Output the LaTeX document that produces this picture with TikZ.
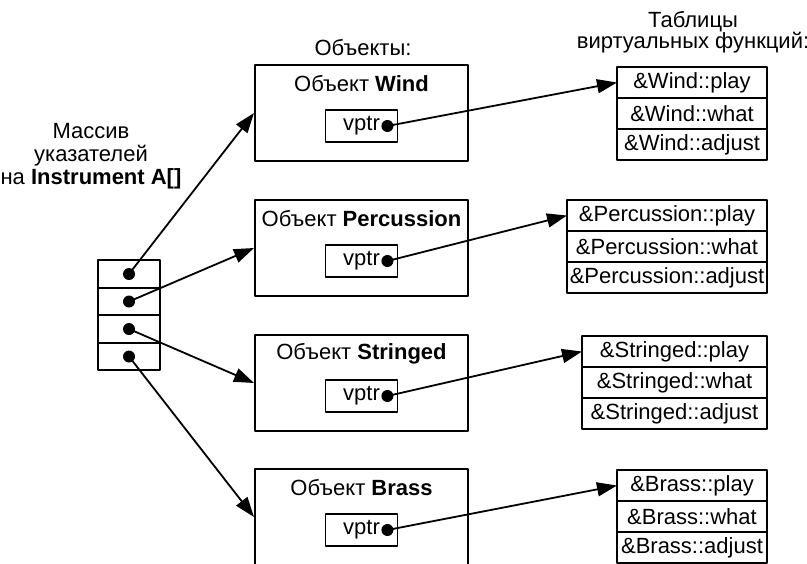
\documentclass[tikz,border=0pt]{standalone}
\usepackage{fontspec}
\setmainfont{Liberation Sans}
\usetikzlibrary{arrows.meta,positioning}

\tikzset{
  objbox/.style={draw,line width=1pt,minimum width=106.5pt,minimum height=48pt,inner sep=0pt},
  vptrbox/.style={draw,line width=0.9pt,minimum width=36pt,minimum height=16pt,inner sep=0pt},
  slot/.style={draw,line width=0.8pt,minimum width=31pt,minimum height=13.75pt,inner sep=0pt,outer sep=0pt},
  vrow/.style={draw,line width=0.9pt,minimum height=15.5pt,inner sep=0pt,outer sep=0pt},
  ptrdot/.style={circle,fill=black,inner sep=0pt,minimum size=6pt},
  link/.style={-{Triangle[length=10pt,width=7pt]},line width=0.9pt},
}

\begin{document}
\begin{tikzpicture}[x=0.5pt,y=-0.5pt,font=\fontsize{11}{12}\selectfont,line join=round]
\clip (0,0) rectangle (807,563);
% headings
\node (hobj) at (363,48) {Объекты:};
\node[align=center,font=\fontsize{11}{10.5}\selectfont] (htab) at (693,32) {Таблицы\\виртуальных функций:};
\node[align=center,font=\fontsize{11}{11.5}\selectfont] (harr) at (91,156) {Массив\\указателей\\на \textbf{Instrument A[]}};
% array of pointers
\node[slot] (s1) at (129,274) {};
\node[slot,below=0pt of s1] (s2) {};
\node[slot,below=0pt of s2] (s3) {};
\node[slot,below=0pt of s3] (s4) {};
\node[ptrdot] (s1d) at (s1.center) {};
\node[ptrdot] (s2d) at (s2.center) {};
\node[ptrdot] (s3d) at (s3.center) {};
\node[ptrdot] (s4d) at (s4.center) {};
% objects
\node[objbox] (wobj) at (361.5,113) {};
\node (wtitle) at ([yshift=-10pt]wobj.north) {Объект \textbf{Wind}};
\node[vptrbox] (wvp) at ([yshift=-31pt]wobj.north) {vptr\hspace{10.5pt}};
\node[ptrdot] (wvd) at ([xshift=-5.5pt]wvp.east) {};
\node[objbox] (pobj) at (361.5,248) {};
\node (ptitle) at ([yshift=-10pt]pobj.north) {Объект \textbf{Percussion}};
\node[vptrbox] (pvp) at ([yshift=-31pt]pobj.north) {vptr\hspace{10.5pt}};
\node[ptrdot] (pvd) at ([xshift=-5.5pt]pvp.east) {};
\node[objbox] (sobj) at (361.5,383) {};
\node (stitle) at ([yshift=-10pt]sobj.north) {Объект \textbf{Stringed}};
\node[vptrbox] (svp) at ([yshift=-31pt]sobj.north) {vptr\hspace{10.5pt}};
\node[ptrdot] (svd) at ([xshift=-5.5pt]svp.east) {};
\node[objbox] (bobj) at (361.5,517) {};
\node (btitle) at ([yshift=-10pt]bobj.north) {Объект \textbf{Brass}};
\node[vptrbox] (bvp) at ([yshift=-31pt]bobj.north) {vptr\hspace{10.5pt}};
\node[ptrdot] (bvd) at ([xshift=-5.5pt]bvp.east) {};
% virtual function tables
\node[vrow,minimum width=75pt,anchor=north east] (wt1) at (767,67) {\&Wind::play};
\node[vrow,minimum width=75pt,below=0pt of wt1] (wt2) {\&Wind::what};
\node[vrow,minimum width=75pt,below=0pt of wt2] (wt3) {\&Wind::adjust};
\node[vrow,minimum width=100pt,anchor=north east] (pt1) at (767,200) {\&Percussion::play};
\node[vrow,minimum width=100pt,below=0pt of pt1] (pt2) {\&Percussion::what};
\node[vrow,minimum width=100pt,below=0pt of pt2] (pt3) {\&Percussion::adjust};
\node[vrow,minimum width=92.5pt,anchor=north east] (st1) at (767,336) {\&Stringed::play};
\node[vrow,minimum width=92.5pt,below=0pt of st1] (st2) {\&Stringed::what};
\node[vrow,minimum width=92.5pt,below=0pt of st2] (st3) {\&Stringed::adjust};
\node[vrow,minimum width=75pt,anchor=north east] (bt1) at (767,470) {\&Brass::play};
\node[vrow,minimum width=75pt,below=0pt of bt1] (bt2) {\&Brass::what};
\node[vrow,minimum width=75pt,below=0pt of bt2] (bt3) {\&Brass::adjust};
% pointers
\draw[link] (s1d.center) -- (wobj.west);
\draw[link] (s2d.center) -- (pobj.west);
\draw[link] (s3d.center) -- (sobj.west);
\draw[link] (s4d.center) -- (bobj.west);
\draw[link] (wvd.center) -- (wt1.west);
\draw[link] (pvd.center) -- (pt1.west);
\draw[link] (svd.center) -- (st1.west);
\draw[link] (bvd.center) -- (bt1.west);
\end{tikzpicture}
\end{document}
